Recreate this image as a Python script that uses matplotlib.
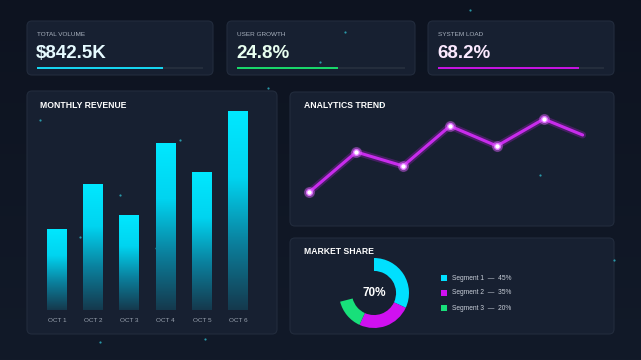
import numpy as np
import matplotlib
matplotlib.use("Agg")
import matplotlib.pyplot as plt
from matplotlib.patches import FancyBboxPatch, Rectangle

plt.rcParams['font.family'] = ['Liberation Sans', 'DejaVu Sans']

# KPI cards
kpi_labels = ["TOTAL VOLUME", "USER GROWTH", "SYSTEM LOAD"]
kpi_values = ["$842.5K", "24.8%", "68.2%"]
kpi_progress = [0.76, 0.60, 0.85]
kpi_colors = ["#16d4ef", "#19d66a", "#c414e0"]
kpi_text_colors = ["#e6fbff", "#e8fff0", "#fbe9ff"]

# monthly revenue bars
months = ["OCT 1", "OCT 2", "OCT 3", "OCT 4", "OCT 5", "OCT 6"]
revenue = [40, 62, 47, 82, 68, 98]

# analytics trend
trend_x = [0, 1, 2, 3, 4, 5, 5.83]
trend_y = [38, 78, 64, 104, 84, 111, 95]

# market share
segments = ["Segment 1", "Segment 2", "Segment 3"]
shares = [45, 35, 20]
seg_colors = ["#00e0ff", "#d010f0", "#18e07a"]
donut_fill = 0.71
center_label = "70%"

# background particles
particles_x = [40, 80, 120, 180, 345, 540, 614, 100, 205, 320, 470, 268, 380, 156]
particles_y = [120, 237, 195, 140, 32, 175, 260, 342, 339, 62, 10, 88, 104, 248]

W, H = 641, 360
fig = plt.figure(figsize=(6.41, 3.6), dpi=100)

# background
bg = fig.add_axes([0, 0, 1, 1])
bg.set_xlim(0, W)
bg.set_ylim(H, 0)
bg.axis("off")
grad = np.linspace(0, 1, 256).reshape(-1, 1)
bg.imshow(grad, extent=[0, W, H, 0], cmap=matplotlib.colors.LinearSegmentedColormap.from_list(
    "bg", ["#0d1320", "#121a29"]), aspect="auto", zorder=0)


def panel(x0, y0, x1, y1):
    p = FancyBboxPatch((x0, y0), x1 - x0, y1 - y0, boxstyle="round,pad=0,rounding_size=5",
                       facecolor="#172031", edgecolor="#222c3d", linewidth=0.8, zorder=1)
    bg.add_patch(p)


# kpi cards
card_x = [(27, 213), (227, 415), (428, 614)]
for i, (x0, x1) in enumerate(card_x):
    panel(x0, 21, x1, 75)
    bg.text(x0 + 10, 35, kpi_labels[i], color="#a9b2bf", fontsize=4.6, va="center", zorder=3)
    bg.text(x0 + 9, 53.5, kpi_values[i], color=kpi_text_colors[i], fontsize=13.5,
            fontweight="bold", va="center", zorder=3)
    track_w = (x1 - x0) - 20
    bg.add_patch(Rectangle((x0 + 10, 66.5), track_w, 2.4, facecolor="#242d3c", zorder=2))
    bg.add_patch(Rectangle((x0 + 10, 66.5), track_w * kpi_progress[i], 2.4,
                           facecolor=kpi_colors[i], zorder=3))

panel(27, 91, 277, 334)
panel(290, 92, 614, 226)
panel(290, 238, 614, 334)
bg.text(40, 105, "MONTHLY REVENUE", color="white", fontsize=6.2, fontweight="bold", va="center", zorder=3)
bg.text(304, 106, "ANALYTICS TREND", color="white", fontsize=6.2, fontweight="bold", va="center", zorder=3)
bg.text(304, 252, "MARKET SHARE", color="white", fontsize=6.2, fontweight="bold", va="center", zorder=3)

bg.scatter(particles_x, particles_y, s=2.5, color="#2fb8c8", alpha=0.8, zorder=2, linewidths=0)

# bar chart
ax1 = fig.add_axes([37 / W, 1 - 310 / H, 221 / W, 199 / H])
ax1.set_facecolor("none")
bars = ax1.bar(range(len(months)), revenue, width=0.55, color="none")
ax1.set_xlim(-0.55, 5.55)
ax1.set_ylim(0, 98)
bar_cmap = matplotlib.colors.LinearSegmentedColormap.from_list(
    "bar", ["#15394d", "#0b7f9c", "#00d4f0", "#00e8ff"])
for b in bars:
    x, w, h = b.get_x(), b.get_width(), b.get_height()
    im = ax1.imshow(np.linspace(0, 1, 256).reshape(-1, 1), extent=[x, x + w, 0, h],
                    origin="lower", cmap=bar_cmap, aspect="auto", zorder=2)
    im.set_clip_path(b)
ax1.set_xlim(-0.55, 5.55)
ax1.set_ylim(0, 98)
ax1.set_xticks(range(len(months)))
ax1.set_xticklabels(months, color="#9aa3b0", fontsize=4.6)
ax1.tick_params(length=0, pad=6)
ax1.set_yticks([])
for s in ax1.spines.values():
    s.set_visible(False)

# line chart
ax2 = fig.add_axes([300 / W, 1 - 215 / H, 300 / W, 110 / H])
ax2.set_facecolor("none")
ax2.plot(trend_x, trend_y, color="#b41cd8", linewidth=5, alpha=0.3, solid_capstyle="round")
ax2.plot(trend_x, trend_y, color="#c82cec", linewidth=2.2, solid_capstyle="round")
ax2.plot(trend_x[:-1], trend_y[:-1], "o", markersize=7, color="#e060ff", alpha=0.35)
ax2.plot(trend_x[:-1], trend_y[:-1], "o", markersize=4.2, markerfacecolor="white",
         markeredgecolor="#e070ff", markeredgewidth=1)
ax2.set_xlim(-0.2, 6.2)
ax2.set_ylim(15, 125)
ax2.axis("off")

# donut
ax3 = fig.add_axes([(374 - 35) / W, 1 - (293 + 35) / H, 70 / W, 70 / H])
ax3.set_facecolor("none")
circle_share = [v * donut_fill for v in shares] + [100 - donut_fill * sum(shares)]
ax3.pie(circle_share, colors=seg_colors + ["none"], startangle=90, counterclock=False,
        radius=1.0, wedgeprops=dict(width=0.37, linewidth=0))
ax3.text(0, 0, center_label, color="white", fontsize=8.5, fontweight="bold", ha="center", va="center")
ax3.set_xlim(-1, 1)
ax3.set_ylim(-1, 1)
ax3.set_aspect("equal")

for i, seg in enumerate(segments):
    y = 278 + i * 15
    bg.add_patch(Rectangle((441, y - 3), 6, 6, facecolor=seg_colors[i], zorder=3))
    bg.text(452, y, f"{seg}  \u2014  {shares[i]}%", color="#c8ced8", fontsize=4.8, va="center", zorder=3)

fig.savefig("out.png", dpi=100, facecolor="#0e1421")
